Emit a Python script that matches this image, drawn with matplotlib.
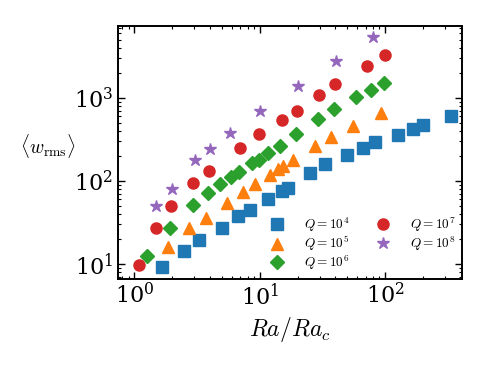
"""
Rms vertical velocity against reduced Rayleigh number, several Q values.
"""
import matplotlib
matplotlib.use('Agg')
import matplotlib.pyplot as plt

plt.rcParams['mathtext.fontset'] = 'cm'
plt.rcParams['font.family'] = ['DejaVu Serif']

# Q = 1e4
ra_q4 = [1.65, 2.5, 3.3, 5.0, 6.7, 8.3, 11.6, 14.9, 16.7, 25, 33.4, 50, 66.5, 83.5, 126, 168, 200, 334]
w_q4 = [9.2, 14.5, 19.3, 27.4, 38, 44.8, 60, 76, 83, 124, 159, 206, 251, 292, 361, 427, 473, 607]
# Q = 1e5
ra_q5 = [1.86, 2.75, 3.69, 5.5, 7.36, 9.2, 12.0, 14.0, 15.3, 18.4, 27.8, 37, 55.7, 93]
w_q5 = [16.2, 27.4, 36, 54.8, 73, 92.7, 119, 138, 151, 179, 264, 336, 460, 665]
# Q = 1e6
ra_q6 = [1.26, 1.94, 2.93, 3.85, 4.8, 5.87, 6.8, 8.68, 9.8, 11.6, 14.6, 19.6, 29.2, 38.9, 58.5, 77.6, 97.3]
w_q6 = [12.6, 27.4, 51, 71.6, 91, 111, 129, 163, 179, 216, 264, 368, 553, 736, 1018, 1260, 1528]
# Q = 1e7
ra_q7 = [1.09, 1.48, 1.95, 2.96, 3.92, 6.93, 9.87, 14.9, 19.8, 29.7, 39.6, 71.6, 99]
w_q7 = [9.65, 27.4, 50, 94.6, 132, 248, 366, 548, 703, 1086, 1475, 2449, 3266]
# Q = 1e8
ra_q8 = [1.5, 2.0, 3.02, 4.0, 5.8, 10, 20.1, 40.3, 80]
w_q8 = [50.4, 80, 179, 245, 382, 692, 1396, 2792, 5383]

labels = [r'$Q = 10^4$', r'$Q = 10^5$', r'$Q = 10^6$', r'$Q = 10^7$', r'$Q = 10^8$']

fig = plt.figure(figsize=(4.88, 3.66), dpi=100)
ax = fig.add_axes([0.2418, 0.239, 0.705, 0.690])

ax.plot(ra_q4, w_q4, 's', color='#1f77b4', ms=8, label=labels[0])
ax.plot(ra_q5, w_q5, '^', color='#ff7f0e', ms=8, label=labels[1])
ax.plot(ra_q6, w_q6, 'D', color='#2ca02c', ms=7.5, label=labels[2])
ax.plot(ra_q7, w_q7, 'o', color='#d62728', ms=8, label=labels[3])
ax.plot(ra_q8, w_q8, '*', color='#9467bd', ms=9, label=labels[4])

ax.set_xscale('log')
ax.set_yscale('log')
ax.set_xlim(0.74, 410)
ax.set_ylim(6.7, 7360)

ax.tick_params(which='both', direction='in', top=True, right=True, labelsize=16)
ax.tick_params(which='major', length=5, width=1)
ax.tick_params(which='minor', length=2.5, width=0.8)
for s in ax.spines.values():
    s.set_linewidth(1.4)

ax.set_xlabel(r'$Ra/Ra_c$', fontsize=17)
ax.set_ylabel(r'$\langle w_{\rm rms} \rangle$', fontsize=14, rotation=0)
ax.yaxis.set_label_coords(-0.205, 0.47)

ax.legend(ncol=2, frameon=False, loc='lower right', bbox_to_anchor=(1.0, 0.0),
          fontsize=9.5, handletextpad=1.0, columnspacing=1.6, labelspacing=0.02,
          borderaxespad=0.1)

plt.savefig('out.png', dpi=100)
plt.close(fig)
